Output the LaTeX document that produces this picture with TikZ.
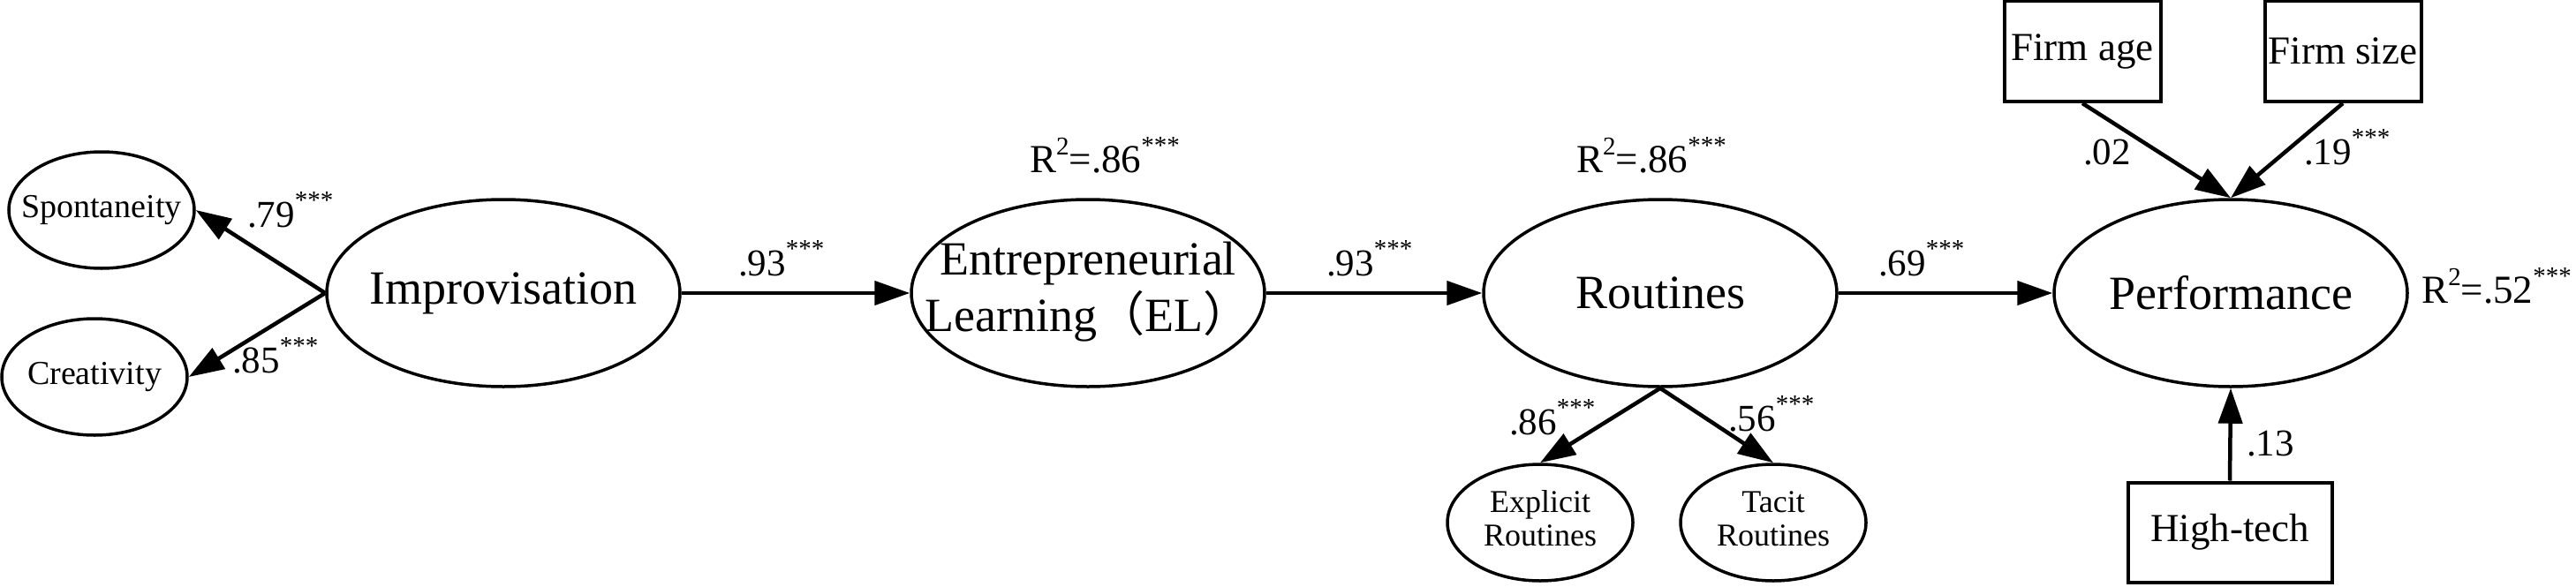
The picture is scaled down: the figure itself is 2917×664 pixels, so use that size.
\documentclass[tikz,border=0pt]{standalone}
\usepackage{fontspec}
\setmainfont{Liberation Serif}
\newfontfamily\cjk{Noto Sans CJK SC}
\usetikzlibrary{arrows.meta,shapes.geometric}
\newcommand\sig{\raisebox{21pt}{\fontsize{29}{29}\selectfont ***}}
\newcommand\rsqr{R\raisebox{20pt}{\fontsize{29}{29}\selectfont 2}}
\begin{document}
\begin{tikzpicture}[x=1pt,y=-1pt,
  lat/.style={ellipse,draw,line width=3.5pt,minimum width=400pt,minimum height=212pt,inner sep=0pt,font=\fontsize{54}{58}\selectfont},
  ind/.style={ellipse,draw,line width=3.5pt,minimum width=210pt,minimum height=132pt,inner sep=0pt,font=\fontsize{38}{42}\selectfont},
  obs/.style={rectangle,draw,line width=4pt,minimum width=177pt,minimum height=114pt,inner sep=0pt,font=\fontsize{45}{48}\selectfont},
  arr/.style={line width=4.5pt,-{Triangle[length=40pt,width=27pt]}},
  coef/.style={anchor=base west,inner sep=0pt,font=\fontsize{43}{46}\selectfont},
  rsq/.style={anchor=base west,inner sep=0pt,font=\fontsize{45}{48}\selectfont}]
\useasboundingbox (0,0) rectangle (2917,664);
% latent variables
\node[lat] (imp) at (570,332) {\makebox[0pt]{Improvisation}};
\node[lat] (el) at (1232,332) {\makebox[0pt]{\raisebox{-7pt}{\begin{tabular}{@{}c@{}}Entrepreneurial\\Learning{\cjk （}EL{\cjk ）}\end{tabular}}}};
\node[lat] (rou) at (1880,332) {\makebox[0pt]{Routines}};
\node[lat] (per) at (2526,332) {\makebox[0pt]{Performance}};
% indicators
\node[ind] (spo) at (115,238) {\makebox[0pt]{Spontaneity}};
\node[ind] (cre) at (107,427) {\makebox[0pt]{Creativity}};
\node[ind,font=\fontsize{36}{38}\selectfont] (exp) at (1744,592) {\makebox[0pt]{\raisebox{-5pt}{\begin{tabular}{@{}c@{}}Explicit\\Routines\end{tabular}}}};
\node[ind,font=\fontsize{36}{38}\selectfont] (tac) at (2008,592) {\makebox[0pt]{\raisebox{-5pt}{\begin{tabular}{@{}c@{}}Tacit\\Routines\end{tabular}}}};
% observed controls
\node[obs] (age) at (2358,58) {Firm age};
\node[obs] (siz) at (2653,58) {Firm size};
\node[obs,minimum width=231pt,minimum height=113pt] (ht) at (2525,603) {High-tech};
% paths
\draw[arr] (imp.west) -- (spo.east);
\draw[arr] (imp.west) -- (cre.east);
\draw[arr] (imp.east) -- (el.west);
\draw[arr] (el.east) -- (rou.west);
\draw[arr] (rou.east) -- (per.west);
\draw[arr] (rou.south) -- (exp.north);
\draw[arr] (rou.south) -- (tac.north);
\draw[arr] (age.south) -- (per.north);
\draw[arr] (siz.south) -- (per.north);
\draw[arr] (ht.north) -- (per.south);
% labels
\node[coef] (l79) at (280,257) {.79\sig};
\node[coef] (l85) at (263,422) {.85\sig};
\node[coef] (l93a) at (836,312) {.93\sig};
\node[coef] (l93b) at (1502,312) {.93\sig};
\node[rsq] (r1) at (1166,195) {\rsqr=.86\sig};
\node[rsq] (r2) at (1785,195) {\rsqr=.86\sig};
\node[coef] (l69) at (2127,312) {.69\sig};
\node[coef] (l86) at (1709,492) {.86\sig};
\node[coef] (l56) at (1957,488) {.56\sig};
\node[coef] (l02) at (2359,186) {.02};
\node[coef] (l19) at (2609,186) {.19\sig};
\node[coef] (l13) at (2544,516) {.13};
\node[rsq] (r3) at (2742,343) {\rsqr=.52\sig};
\end{tikzpicture}
\end{document}
